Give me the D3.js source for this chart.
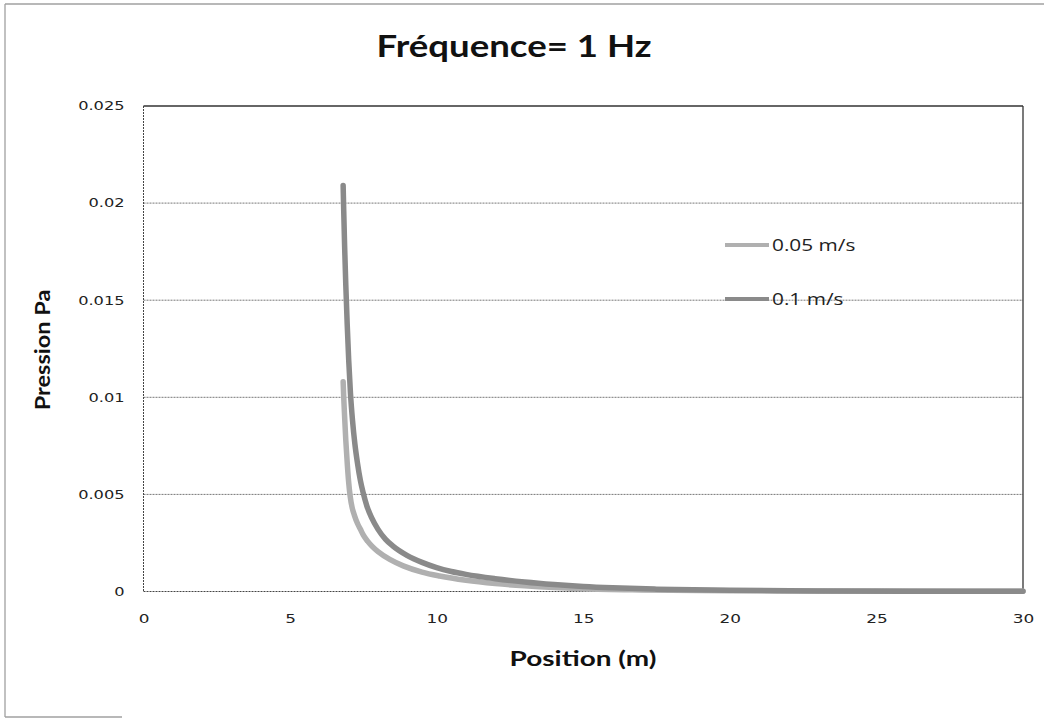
<!DOCTYPE html>
<html>
<head>
<meta charset="utf-8">
<script src="https://cdn.jsdelivr.net/npm/d3@7"></script>
<style>
  html, body { margin: 0; padding: 0; background: #fff; }
  svg { display: block; }
</style>
</head>
<body>
<svg id="chart" width="1044" height="719"></svg>
<script>
// ---- data ----
const chartTitle = "Fréquence= 1 Hz";
const xTitle = "Position (m)";
const yTitle = "Pression Pa";
const xTicks = [0, 5, 10, 15, 20, 25, 30];
const yTicks = [0, 0.005, 0.01, 0.015, 0.02, 0.025];
const yTickLabels = ["0", "0.005", "0.01", "0.015", "0.02", "0.025"];
const seriesNames = ["0.05 m/s", "0.1 m/s"];

const pos005 = [6.81, 6.83, 6.86, 6.90, 6.95, 7.00, 7.05, 7.12, 7.20, 7.30, 7.40, 7.50, 7.65, 7.80, 8.00, 8.40, 8.86, 9.5, 10.1, 11, 12, 13, 14, 15, 17, 20, 25, 30];
const pres005 = [0.0108, 0.0100, 0.0090, 0.0078, 0.0066, 0.0056, 0.0049, 0.0043, 0.0039, 0.0035, 0.0032, 0.0029, 0.00258, 0.00232, 0.00205, 0.00165, 0.00132, 0.00100, 0.00080, 0.00058, 0.00041, 0.00029, 0.00020, 0.00014, 0.00008, 0.00004, 0.00002, 0.00001];

const pos01 = [6.81, 6.83, 6.86, 6.90, 6.95, 7.00, 7.06, 7.13, 7.21, 7.30, 7.40, 7.49, 7.62, 7.78, 8.0, 8.25, 8.5, 9.0, 9.5, 10.0, 10.5, 11.0, 12.0, 13.0, 14.0, 15.0, 16.0, 17.5, 20, 23, 26, 30];
const pres01 = [0.0209, 0.0196, 0.0178, 0.0158, 0.0137, 0.0119, 0.0102, 0.0088, 0.0076, 0.0066, 0.0057, 0.0051, 0.0044, 0.0038, 0.0032, 0.0027, 0.00235, 0.00185, 0.00150, 0.00123, 0.00103, 0.00088, 0.00066, 0.00049, 0.00036, 0.00026, 0.00019, 0.00012, 0.00006, 0.00003, 0.000015, 0.00001];

// ---- layout ----
const svg = d3.select("#chart");
const plot = { left: 143.5, right: 1023, top: 106, bottom: 591.5 };
const x = d3.scaleLinear().domain([0, 30]).range([plot.left, plot.right]);
const y = d3.scaleLinear().domain([0, 0.025]).range([plot.bottom, plot.top]);

// the scanned reference is stretched horizontally: widen text glyphs
function stretch(sel, k) {
  sel.each(function () {
    const w = this.getComputedTextLength();
    d3.select(this).attr("textLength", w * k).attr("lengthAdjust", "spacingAndGlyphs");
  });
}

// outer chart border (left, top, short bottom piece)
const bc = "#a0a0a0";
svg.append("line").attr("x1", 5).attr("x2", 5).attr("y1", 4).attr("y2", 717).attr("stroke", bc).attr("stroke-width", 1.3);
svg.append("line").attr("x1", 5).attr("x2", 1044).attr("y1", 4).attr("y2", 4).attr("stroke", bc).attr("stroke-width", 1.3);
svg.append("line").attr("x1", 5).attr("x2", 122).attr("y1", 717).attr("y2", 717).attr("stroke", bc).attr("stroke-width", 1.3);

// title
svg.append("text").attr("x", 514).attr("y", 57).attr("text-anchor", "middle")
  .attr("font-family", "Lato, 'Open Sans', sans-serif").attr("font-weight", "bold")
  .attr("font-size", 31).attr("fill", "#111").text(chartTitle)
  .call(stretch, 1.18);

// gridlines
svg.append("g").selectAll("line").data(yTicks.filter(d => d > 0 && d < 0.025)).join("line")
  .attr("x1", plot.left).attr("x2", plot.right)
  .attr("y1", d => y(d)).attr("y2", d => y(d))
  .attr("stroke", "#777").attr("stroke-width", 1).attr("stroke-dasharray", "2,1");

// plot frame
svg.append("line").attr("x1", plot.left).attr("x2", plot.right).attr("y1", plot.top).attr("y2", plot.top)
  .attr("stroke", "#333").attr("stroke-width", 1.3);
svg.append("line").attr("x1", plot.right).attr("x2", plot.right).attr("y1", plot.top).attr("y2", plot.bottom)
  .attr("stroke", "#333").attr("stroke-width", 1.3);
svg.append("line").attr("x1", plot.left).attr("x2", plot.left).attr("y1", plot.top).attr("y2", plot.bottom)
  .attr("stroke", "#444").attr("stroke-width", 1).attr("stroke-dasharray", "2,1");
svg.append("line").attr("x1", plot.left).attr("x2", plot.right).attr("y1", plot.bottom).attr("y2", plot.bottom)
  .attr("stroke", "#444").attr("stroke-width", 1).attr("stroke-dasharray", "2,1");

// axes (labels only)
const xAxis = d3.axisBottom(x).tickValues(xTicks).tickSize(0).tickPadding(0).tickFormat(d3.format("d"));
const gx = svg.append("g").attr("transform", `translate(0,${plot.bottom + 22})`).call(xAxis);
gx.select(".domain").remove();
gx.selectAll("text").attr("font-family", "'DejaVu Sans', Verdana, sans-serif").attr("font-size", 13).attr("fill", "#222")
  .call(stretch, 1.3);

const yAxis = d3.axisLeft(y).tickValues(yTicks).tickSize(0).tickPadding(0)
  .tickFormat((d, i) => yTickLabels[i]);
const gy = svg.append("g").attr("transform", `translate(${plot.left - 19},0)`).call(yAxis);
gy.select(".domain").remove();
gy.selectAll("text").attr("font-family", "'DejaVu Sans', Verdana, sans-serif").attr("font-size", 12).attr("fill", "#222")
  .call(stretch, 1.35);

// axis titles
svg.append("text").attr("x", 583).attr("y", 666).attr("text-anchor", "middle")
  .attr("font-family", "Lato, 'Open Sans', sans-serif").attr("font-weight", "bold")
  .attr("font-size", 21).attr("fill", "#111").text(xTitle)
  .call(stretch, 1.33);
svg.append("text").attr("transform", "translate(50,350) rotate(-90)").attr("text-anchor", "middle")
  .attr("font-family", "Lato, 'Open Sans', sans-serif").attr("font-weight", "bold")
  .attr("font-size", 21).attr("fill", "#111").text(yTitle)
  .call(stretch, 1.12);

// series
const series = [
  { name: seriesNames[0], xs: pos005, ys: pres005, color: "#b0b0b0" },
  { name: seriesNames[1], xs: pos01, ys: pres01, color: "#8a8a8a" }
];
const line = d3.line().x(d => x(d[0])).y(d => y(d[1])).curve(d3.curveMonotoneX);
svg.append("g").selectAll("path").data(series).join("path")
  .attr("d", s => line(s.xs.map((v, i) => [v, s.ys[i]])))
  .attr("fill", "none").attr("stroke", s => s.color).attr("stroke-width", 5.5)
  .attr("stroke-linejoin", "round").attr("stroke-linecap", "round");

// legend
const lg = svg.append("g").selectAll("g").data(series).join("g")
  .attr("transform", (d, i) => `translate(725,${245 + i * 54})`);
lg.append("line").attr("x1", 0).attr("x2", 44).attr("y1", 0).attr("y2", 0)
  .attr("stroke", d => d.color).attr("stroke-width", 4);
lg.append("text").attr("x", 47).attr("y", 6)
  .attr("font-family", "'Open Sans', sans-serif").attr("font-size", 16).attr("fill", "#222")
  .text(d => d.name)
  .call(stretch, 1.3);
</script>
</body>
</html>
